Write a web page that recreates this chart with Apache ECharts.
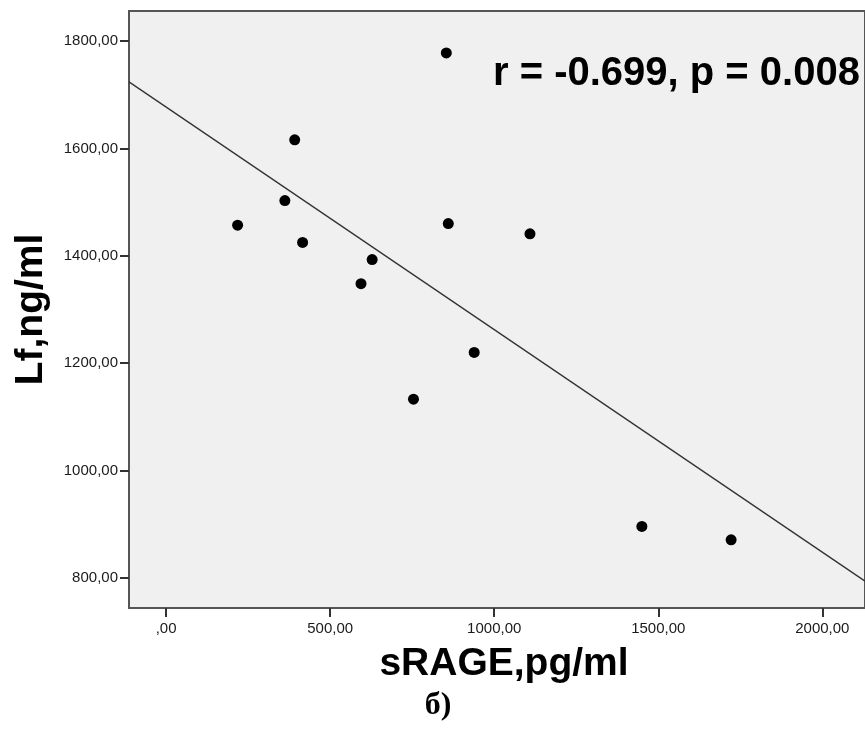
<!DOCTYPE html>
<html>
<head>
<meta charset="utf-8">
<script src="https://cdn.jsdelivr.net/npm/echarts@6/dist/echarts.min.js"></script>
<style>
html,body{margin:0;padding:0;background:#fff;}
#chart{width:865px;height:735px;}
</style>
</head>
<body>
<div id="chart"></div>
<script>
// sRAGE (pg/ml) values
var sRAGE = [392, 362, 218, 416, 628, 594, 854, 860, 1109, 939, 754, 1450, 1722];
// Lf (ng/ml) values
var Lf = [1616, 1503, 1457, 1425, 1393, 1348, 1778, 1460, 1441, 1220, 1133, 896, 871];
// fitted line as drawn (x, y)
var fitLineX = [-113, 2130];
var fitLineY = [1724, 794];
// axis ticks
var xTickValues = [0, 500, 1000, 1500, 2000];
var xTickLabels = [',00', '500,00', '1000,00', '1500,00', '2000,00'];
var yTickValues = [800, 1000, 1200, 1400, 1600, 1800];
var yTickLabels = ['800,00', '1000,00', '1200,00', '1400,00', '1600,00', '1800,00'];
var xAxisTitle = 'sRAGE,pg/ml';
var yAxisTitle = 'Lf,ng/ml';
var statText = 'r = -0.699, p = 0.008';
var caption = 'б)';

var points = sRAGE.map(function (x, i) { return [x, Lf[i]]; });
var fitLine = fitLineX.map(function (x, i) { return [x, fitLineY[i]]; });

var chart = echarts.init(document.getElementById('chart'), null, {renderer: 'canvas'});
var axisColor = '#555555';
var font = '"Liberation Sans", Arial, sans-serif';

chart.setOption({
  backgroundColor: '#ffffff',
  animation: false,
  grid: {
    left: 129, top: 11, right: -20, bottom: 127,
    show: true, backgroundColor: '#f0f0f0', borderColor: axisColor, borderWidth: 2
  },
  xAxis: {
    type: 'value', min: -113, max: 2130,
    splitLine: {show: false},
    axisLine: {show: true, onZero: false, lineStyle: {color: axisColor, width: 2}},
    axisTick: {show: true, length: 9, lineStyle: {color: '#333', width: 2}, customValues: xTickValues},
    axisLabel: {
      customValues: xTickValues, margin: 13, color: '#1a1a1a', fontSize: 15, fontFamily: font,
      formatter: function (v) { var i = xTickValues.indexOf(v); return i >= 0 ? xTickLabels[i] : ''; }
    },
    name: xAxisTitle, nameLocation: 'middle', nameGap: 37,
    nameTextStyle: {fontSize: 39, fontWeight: 'bold', color: '#000', fontFamily: font, padding: [0, 0, 0, 14]}
  },
  yAxis: {
    type: 'value', min: 744, max: 1856,
    splitLine: {show: false},
    axisLine: {show: true, onZero: false, lineStyle: {color: axisColor, width: 2}},
    axisTick: {show: true, length: 9, lineStyle: {color: '#333', width: 2}, customValues: yTickValues},
    axisLabel: {
      customValues: yTickValues, margin: 11, color: '#1a1a1a', fontSize: 15, fontFamily: font,
      formatter: function (v) { var i = yTickValues.indexOf(v); return i >= 0 ? yTickLabels[i] : ''; }
    },
    name: yAxisTitle, nameLocation: 'middle', nameGap: 78, nameRotate: 90,
    nameTextStyle: {fontSize: 39, fontWeight: 'bold', color: '#000', fontFamily: font}
  },
  series: [
    {
      type: 'line', data: fitLine, showSymbol: false, silent: true,
      lineStyle: {color: '#333333', width: 1.3}, z: 2
    },
    {
      type: 'scatter', data: points, symbol: 'circle', symbolSize: 11,
      itemStyle: {color: '#000000', opacity: 1}, z: 3
    }
  ],
  graphic: [
    {
      type: 'text', x: 493, y: 74,
      style: {text: statText, font: 'bold 40px "Liberation Sans", Arial, sans-serif', fill: '#000', align: 'left', verticalAlign: 'middle'}
    },
    {
      type: 'text', x: 438, y: 706,
      style: {text: caption, font: 'bold 32px "Liberation Serif", "Times New Roman", serif', fill: '#000', align: 'center', verticalAlign: 'middle'}
    }
  ]
});
</script>
</body>
</html>
